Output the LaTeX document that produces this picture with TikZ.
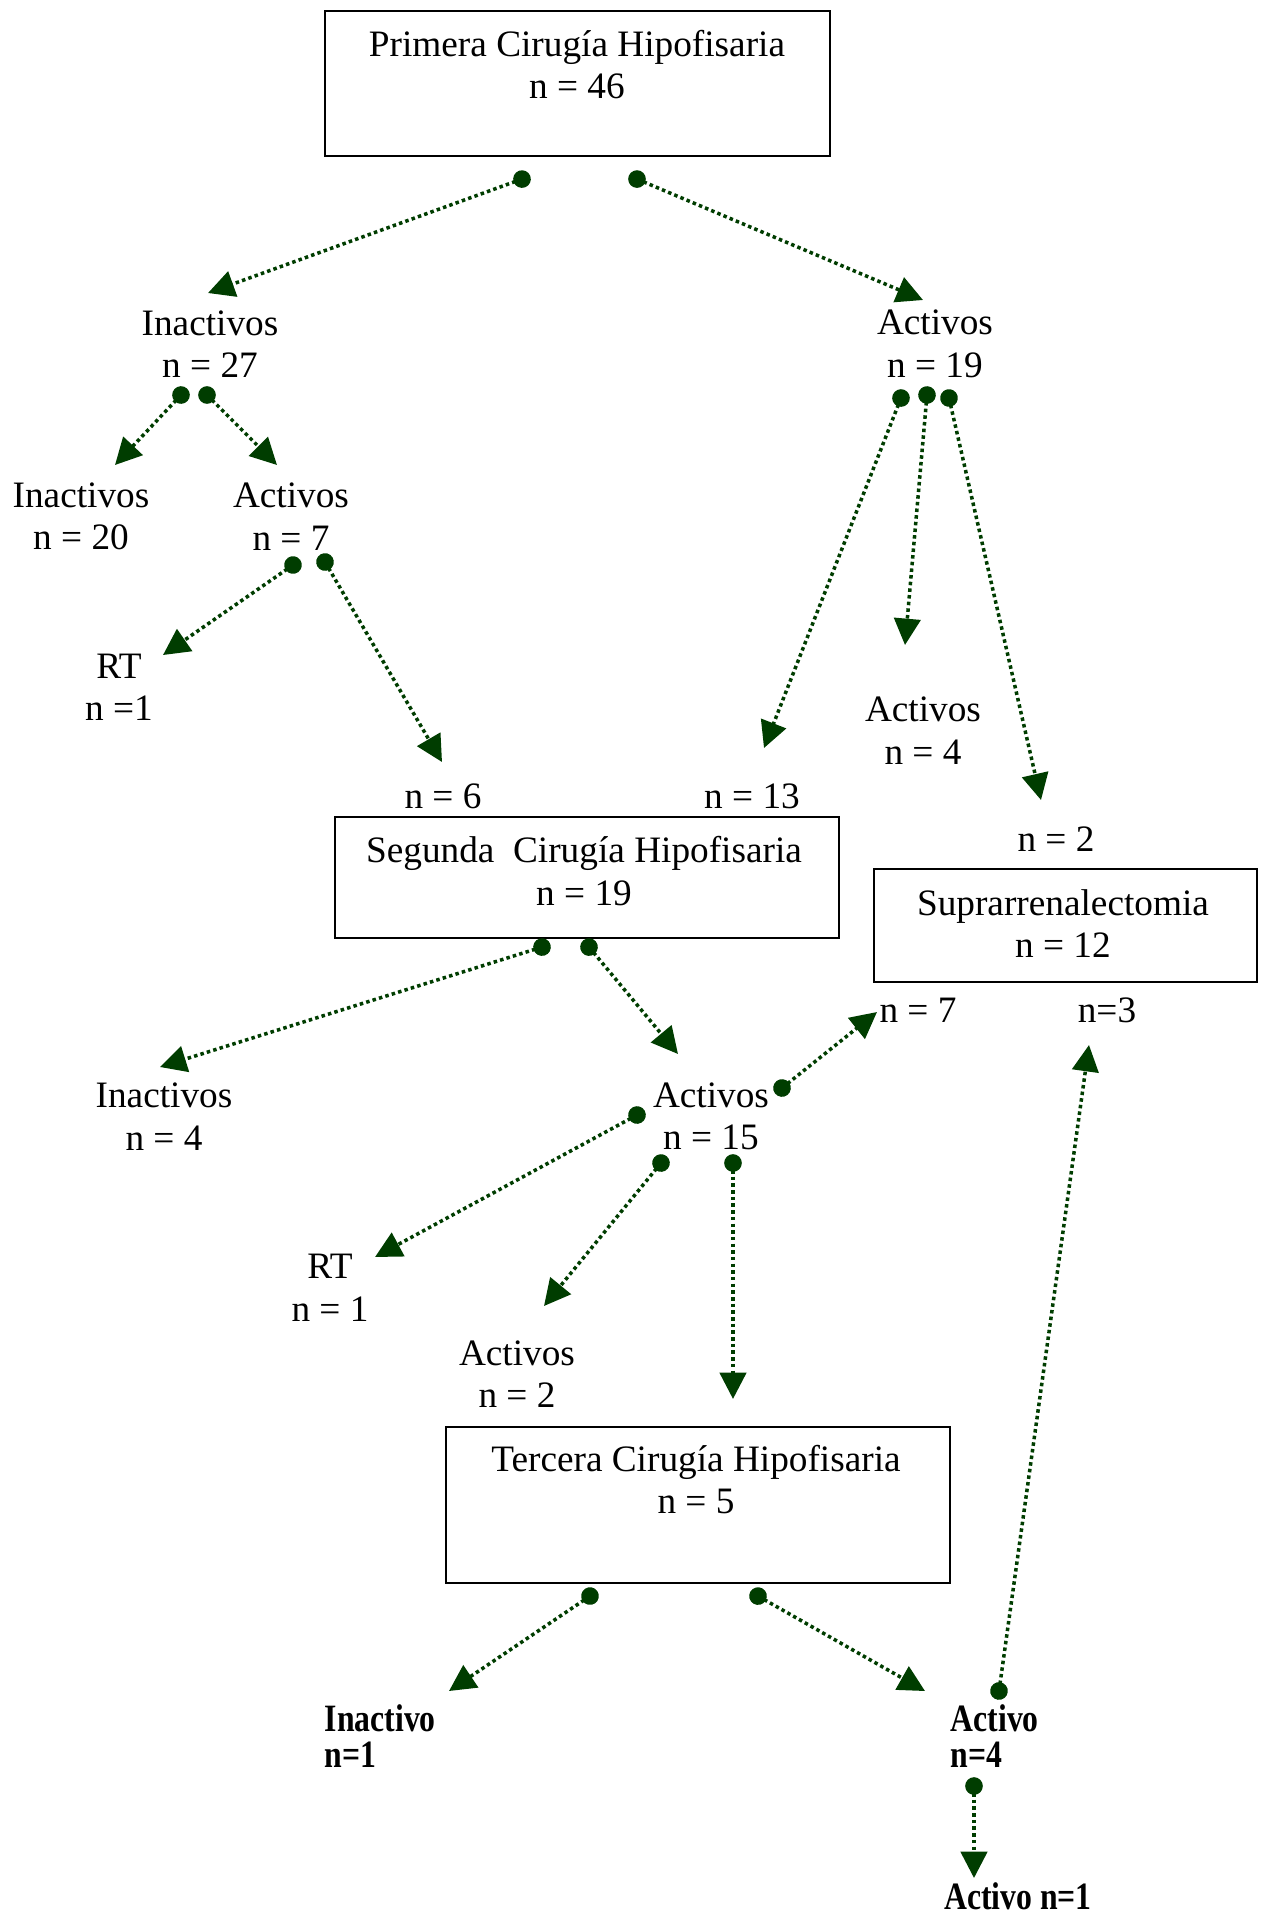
\documentclass[tikz,border=0pt]{standalone}
\usepackage{fontspec}
\setmainfont{Liberation Serif}
\newfontfamily\condbold[FakeStretch=0.82]{Liberation Serif}
\usetikzlibrary{arrows.meta,fit}
\definecolor{linkgreen}{RGB}{0,61,0}
\tikzset{
  box/.style={draw, line width=0.6pt, inner sep=0pt},
  lbl/.style={align=center, inner sep=0pt, font=\fontsize{10.6}{12.1}\selectfont},
  boldlbl/.style={align=left, inner sep=0pt, anchor=west, font=\condbold\bfseries\fontsize{11}{10.4}\selectfont},
  link/.style={draw=linkgreen, line width=1pt, dash pattern=on 1pt off 0.9pt, shorten <=-2.5pt,
    {Circle[length=5pt]}-{Triangle[length=7.5pt, width=7.5pt]}}
}

\begin{document}
\begin{tikzpicture}[x=0.01cm, y=-0.01cm]
  \useasboundingbox (0,0) rectangle (1264,1917);

  \node[box, fit={(325,11) (830,156)}] (b1) {};
  \node[lbl] (t1) at (577,64.5) {Primera Cirugía Hipofisaria\\n = 46};
  \node[lbl] (inac27) at (210,344) {Inactivos\\n = 27};
  \node[lbl] (act19) at (935,344) {Activos\\n = 19};
  \node[lbl] (inac20) at (81,516.5) {Inactivos\\n = 20};
  \node[lbl] (act7) at (291,516.5) {Activos\\n = 7};
  \node[lbl] (rt1a) at (119,687.5) {RT\\n =1};
  \node[lbl] (act4) at (923,730.5) {Activos\\n = 4};
  \node[lbl] (n6) at (443,796) {n = 6};
  \node[lbl] (n13) at (752,796) {n = 13};

  \node[box, fit={(335,817) (839,938)}] (b2) {};
  \node[lbl] (t2) at (584,871) {Segunda\ \ Cirugía Hipofisaria\\n = 19};
  \node[lbl] (n2) at (1056,839) {n = 2};
  \node[box, fit={(874,869) (1257,982)}] (b4) {};
  \node[lbl] (t4) at (1063,923.5) {Suprarrenalectomia\\n = 12};
  \node[lbl] (n7) at (918,1010) {n = 7};
  \node[lbl] (n3) at (1107,1010) {n=3};
  \node[lbl] (inac4) at (164,1116.5) {Inactivos\\n = 4};
  \node[lbl] (act15) at (711,1116.5) {Activos\\n = 15};
  \node[lbl] (rt1b) at (330,1287.5) {RT\\n = 1};
  \node[lbl] (act2) at (517,1374) {Activos\\n = 2};

  \node[box, fit={(446,1427) (950,1583)}] (b3) {};
  \node[lbl] (t3) at (696,1479.5) {Tercera Cirugía Hipofisaria\\n = 5};
  \node[boldlbl] (inac1) at (324,1736) {Inactivo\\n=1};
  \node[boldlbl] (act4b) at (950,1736) {Activo\\n=4};
  \node[boldlbl, anchor=center] (act1) at (1018,1896) {Activo n=1};

  % first surgery
  \draw[link] ([shift={(-55.5,22)}]b1.south) -- ([shift={(-2,-51)}]inac27.center);
  \draw[link] ([shift={(59.5,22)}]b1.south) -- ([shift={(-12,-44)}]act19.center);
  \draw[link] ([shift={(-29,51)}]inac27.center) -- ([shift={(34,-51.5)}]inac20.center);
  \draw[link] ([shift={(-3,51)}]inac27.center) -- ([shift={(-14,-51.5)}]act7.center);
  \draw[link] ([shift={(2,48.5)}]act7.center) -- ([shift={(44,-32.5)}]rt1a.center);
  \draw[link] ([shift={(34,45.5)}]act7.center) -- ([shift={(-1,-34)}]n6.center);
  \draw[link] ([shift={(-34,54)}]act19.center) -- ([shift={(12,-48)}]n13.center);
  \draw[link] ([shift={(-8,51)}]act19.center) -- ([shift={(-18,-85.5)}]act4.center);
  \draw[link] ([shift={(14,54)}]act19.center) -- ([shift={(-15,-39)}]n2.center);

  % second surgery
  \draw[link] ([shift={(-45,8)}]b2.south) -- ([shift={(-4,-49.5)}]inac4.center);
  \draw[link] ([shift={(2,8)}]b2.south) -- ([shift={(-33,-62.5)}]act15.center);
  \draw[link] ([shift={(71,-28.5)}]act15.center) -- ([shift={(-41,2)}]n7.center);
  \draw[link] ([shift={(-74,-1.5)}]act15.center) -- ([shift={(45,-30.5)}]rt1b.center);
  \draw[link] ([shift={(-50,46.5)}]act15.center) -- ([shift={(27,-68)}]act2.center);
  \draw[link] ([shift={(22,46.5)}]act15.center) -- ([shift={(35,-27)}]b3.north);

  % third surgery
  \draw[link] ([shift={(-108,12)}]b3.south) -- ([shift={(125,-45)}]inac1.west);
  \draw[link] ([shift={(60,12)}]b3.south) -- ([shift={(-25,-45)}]act4b.west);
  \draw[link] ([shift={(49,-45)}]act4b.west) -- ([shift={(-18,35)}]n3.center);
  \draw[link] ([shift={(24,50)}]act4b.west) -- ([shift={(-44,-18)}]act1.center);
\end{tikzpicture}
\end{document}
